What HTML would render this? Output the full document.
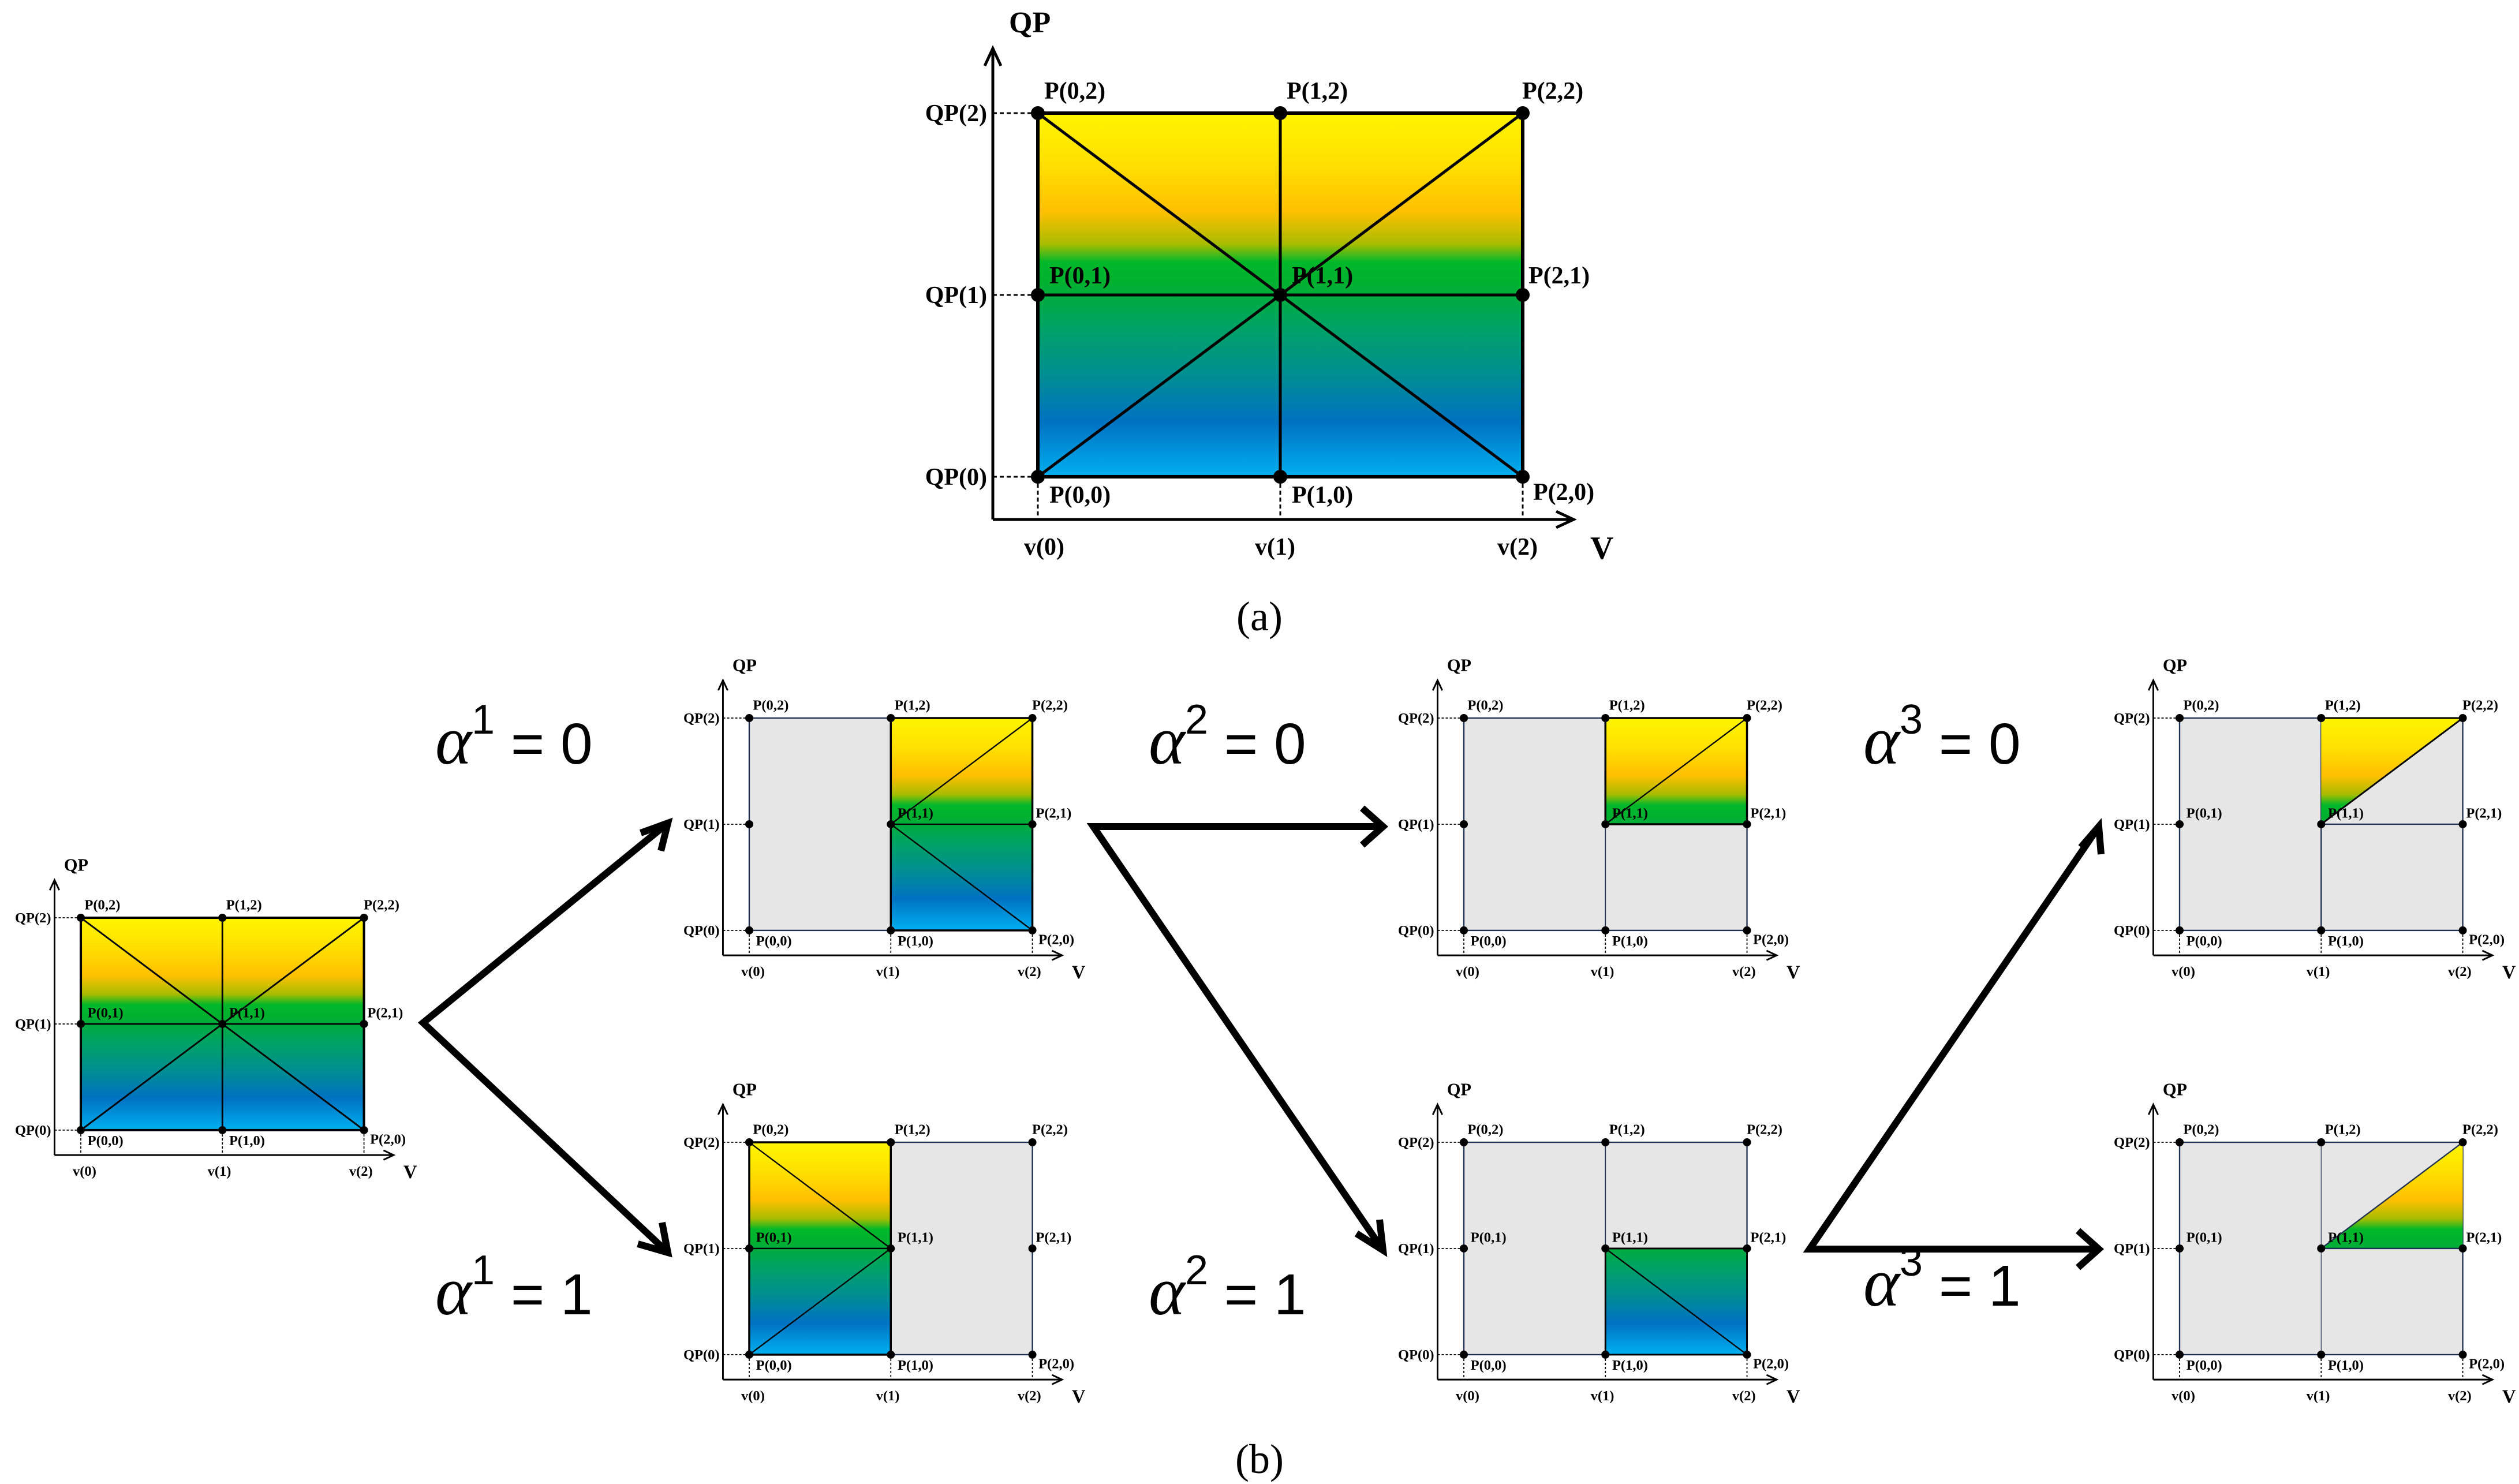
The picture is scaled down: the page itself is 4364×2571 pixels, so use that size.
<!DOCTYPE html>
<html><head><meta charset="utf-8"><style>
html,body{margin:0;padding:0;background:#fff}
svg{display:block}
.t{font-family:"Liberation Serif",serif;font-weight:bold;font-size:42px;fill:#000}
.a{font-family:"Liberation Sans",sans-serif;font-size:100px;fill:#000}
</style></head><body>
<svg width="4364" height="2571" viewBox="0 0 4364 2571" xmlns="http://www.w3.org/2000/svg">
<defs>
<linearGradient id="g" gradientUnits="userSpaceOnUse" x1="0" y1="0" x2="0" y2="630">
<stop offset="0" stop-color="#fff500"/>
<stop offset="0.14" stop-color="#ffe000"/>
<stop offset="0.27" stop-color="#ffc000"/>
<stop offset="0.36" stop-color="#a8bc00"/>
<stop offset="0.41" stop-color="#00b82a"/>
<stop offset="0.47" stop-color="#00b030"/>
<stop offset="0.58" stop-color="#00a462"/>
<stop offset="0.72" stop-color="#008e92"/>
<stop offset="0.85" stop-color="#0072c2"/>
<stop offset="1" stop-color="#00b0f0"/>
</linearGradient>
<g id="ax">
<path d="M-78,704V-110 M-78,704H925" stroke="#000" stroke-width="5" fill="none"/>
<path d="M-92,-82L-78,-112L-64,-82 M898,690L928,704L898,718" stroke="#000" stroke-width="5" fill="none"/>
<path d="M-78,0H0M-78,315H0M-78,630H0M0,630V704M420,630V704M840,630V704" stroke="#000" stroke-width="3" stroke-dasharray="7,5" fill="none"/>
<g fill="#000"><circle cx="0" cy="0" r="12"/><circle cx="420" cy="0" r="12"/><circle cx="840" cy="0" r="12"/><circle cx="0" cy="315" r="12"/><circle cx="420" cy="315" r="12"/><circle cx="840" cy="315" r="12"/><circle cx="0" cy="630" r="12"/><circle cx="420" cy="630" r="12"/><circle cx="840" cy="630" r="12"/></g>
</g>
</defs>

<!-- (a) big diagram -->
<g transform="translate(1798,196)">
<rect x="0" y="0" width="840" height="630" fill="url(#g)"/>
<path d="M0,0L840,630M840,0L0,630M420,0V630M0,315H840" stroke="#000" stroke-width="5" fill="none"/>
<rect x="0" y="0" width="840" height="630" fill="none" stroke="#000" stroke-width="6"/>
<use href="#ax"/>
<g class="t">
<text x="-50" y="-140" font-size="52">QP</text>
<text x="-88" y="14" text-anchor="end">QP(2)</text><text x="-88" y="329" text-anchor="end">QP(1)</text><text x="-88" y="644" text-anchor="end">QP(0)</text>
<text x="11" y="-25">P(0,2)</text><text x="431" y="-25">P(1,2)</text><text x="839" y="-25">P(2,2)</text>
<text x="20" y="295">P(0,1)</text><text x="440" y="295">P(1,1)</text><text x="850" y="295">P(2,1)</text>
<text x="20" y="675">P(0,0)</text><text x="440" y="675">P(1,0)</text><text x="858" y="670">P(2,0)</text>
<text x="11" y="765" text-anchor="middle">v(0)</text><text x="411" y="765" text-anchor="middle">v(1)</text><text x="831" y="765" text-anchor="middle">v(2)</text>
<text x="957" y="772" font-size="56">V</text>
</g>
</g>
<text x="2182" y="1092" text-anchor="middle" style="font-family:'Liberation Serif',serif;font-size:72px">(a)</text>
<text x="2182" y="2552" text-anchor="middle" style="font-family:'Liberation Serif',serif;font-size:72px">(b)</text>

<!-- D1 -->
<g transform="translate(140,1590) scale(0.584)">
<rect x="0" y="0" width="840" height="630" fill="url(#g)"/>
<path d="M0,0L840,630M840,0L0,630M420,0V630M0,315H840" stroke="#000" stroke-width="5" fill="none"/>
<rect x="0" y="0" width="840" height="630" fill="none" stroke="#000" stroke-width="7"/>
<use href="#ax"/>
<g class="t">
<text x="-50" y="-140" font-size="52">QP</text>
<text x="-88" y="14" text-anchor="end">QP(2)</text><text x="-88" y="329" text-anchor="end">QP(1)</text><text x="-88" y="644" text-anchor="end">QP(0)</text>
<text x="11" y="-25">P(0,2)</text><text x="431" y="-25">P(1,2)</text><text x="839" y="-25">P(2,2)</text>
<text x="20" y="295">P(0,1)</text><text x="440" y="295">P(1,1)</text><text x="850" y="295">P(2,1)</text>
<text x="20" y="675">P(0,0)</text><text x="440" y="675">P(1,0)</text><text x="858" y="670">P(2,0)</text>
<text x="11" y="765" text-anchor="middle">v(0)</text><text x="411" y="765" text-anchor="middle">v(1)</text><text x="831" y="765" text-anchor="middle">v(2)</text>
<text x="957" y="772" font-size="56">V</text>
</g>
</g>

<!-- D2 top col1 -->
<g transform="translate(1298,1244) scale(0.584)">
<rect x="0" y="0" width="840" height="630" fill="#e6e6e6" stroke="#1f3050" stroke-width="4"/>
<rect x="420" y="0" width="420" height="630" fill="url(#g)" stroke="#000" stroke-width="6"/>
<path d="M420,315L840,0M420,315L840,630M420,315H840" stroke="#000" stroke-width="4" fill="none"/>
<use href="#ax"/>
<g class="t">
<text x="-50" y="-140" font-size="52">QP</text>
<text x="-88" y="14" text-anchor="end">QP(2)</text><text x="-88" y="329" text-anchor="end">QP(1)</text><text x="-88" y="644" text-anchor="end">QP(0)</text>
<text x="11" y="-25">P(0,2)</text><text x="431" y="-25">P(1,2)</text><text x="839" y="-25">P(2,2)</text>
<text x="440" y="295">P(1,1)</text><text x="850" y="295">P(2,1)</text>
<text x="20" y="675">P(0,0)</text><text x="440" y="675">P(1,0)</text><text x="858" y="670">P(2,0)</text>
<text x="11" y="765" text-anchor="middle">v(0)</text><text x="411" y="765" text-anchor="middle">v(1)</text><text x="831" y="765" text-anchor="middle">v(2)</text>
<text x="957" y="772" font-size="56">V</text>
</g>
</g>

<!-- D3 bottom col1 -->
<g transform="translate(1298,1979) scale(0.584)">
<rect x="0" y="0" width="840" height="630" fill="#e6e6e6" stroke="#1f3050" stroke-width="4"/>
<rect x="0" y="0" width="420" height="630" fill="url(#g)" stroke="#000" stroke-width="6"/>
<path d="M0,0L420,315M0,630L420,315M0,315H420" stroke="#000" stroke-width="4" fill="none"/>
<use href="#ax"/>
<g class="t">
<text x="-50" y="-140" font-size="52">QP</text>
<text x="-88" y="14" text-anchor="end">QP(2)</text><text x="-88" y="329" text-anchor="end">QP(1)</text><text x="-88" y="644" text-anchor="end">QP(0)</text>
<text x="11" y="-25">P(0,2)</text><text x="431" y="-25">P(1,2)</text><text x="839" y="-25">P(2,2)</text>
<text x="20" y="295">P(0,1)</text><text x="440" y="295">P(1,1)</text><text x="850" y="295">P(2,1)</text>
<text x="20" y="675">P(0,0)</text><text x="440" y="675">P(1,0)</text><text x="858" y="670">P(2,0)</text>
<text x="11" y="765" text-anchor="middle">v(0)</text><text x="411" y="765" text-anchor="middle">v(1)</text><text x="831" y="765" text-anchor="middle">v(2)</text>
<text x="957" y="772" font-size="56">V</text>
</g>
</g>

<!-- D4 top col2 -->
<g transform="translate(2536,1244) scale(0.584)">
<rect x="0" y="0" width="840" height="630" fill="#e6e6e6" stroke="#1f3050" stroke-width="4"/>
<path d="M420,0V630" stroke="#1f3050" stroke-width="3"/>
<rect x="420" y="0" width="420" height="315" fill="url(#g)" stroke="#000" stroke-width="6"/>
<path d="M420,315L840,0" stroke="#000" stroke-width="4" fill="none"/>
<use href="#ax"/>
<g class="t">
<text x="-50" y="-140" font-size="52">QP</text>
<text x="-88" y="14" text-anchor="end">QP(2)</text><text x="-88" y="329" text-anchor="end">QP(1)</text><text x="-88" y="644" text-anchor="end">QP(0)</text>
<text x="11" y="-25">P(0,2)</text><text x="431" y="-25">P(1,2)</text><text x="839" y="-25">P(2,2)</text>
<text x="440" y="295">P(1,1)</text><text x="850" y="295">P(2,1)</text>
<text x="20" y="675">P(0,0)</text><text x="440" y="675">P(1,0)</text><text x="858" y="670">P(2,0)</text>
<text x="11" y="765" text-anchor="middle">v(0)</text><text x="411" y="765" text-anchor="middle">v(1)</text><text x="831" y="765" text-anchor="middle">v(2)</text>
<text x="957" y="772" font-size="56">V</text>
</g>
</g>

<!-- D5 bottom col2 -->
<g transform="translate(2536,1979) scale(0.584)">
<rect x="0" y="0" width="840" height="630" fill="#e6e6e6" stroke="#1f3050" stroke-width="4"/>
<path d="M420,0V630" stroke="#1f3050" stroke-width="3"/>
<rect x="420" y="315" width="420" height="315" fill="url(#g)" stroke="#000" stroke-width="5"/>
<path d="M420,315L840,630" stroke="#000" stroke-width="4" fill="none"/>
<use href="#ax"/>
<g class="t">
<text x="-50" y="-140" font-size="52">QP</text>
<text x="-88" y="14" text-anchor="end">QP(2)</text><text x="-88" y="329" text-anchor="end">QP(1)</text><text x="-88" y="644" text-anchor="end">QP(0)</text>
<text x="11" y="-25">P(0,2)</text><text x="431" y="-25">P(1,2)</text><text x="839" y="-25">P(2,2)</text>
<text x="20" y="295">P(0,1)</text><text x="440" y="295">P(1,1)</text><text x="850" y="295">P(2,1)</text>
<text x="20" y="675">P(0,0)</text><text x="440" y="675">P(1,0)</text><text x="858" y="670">P(2,0)</text>
<text x="11" y="765" text-anchor="middle">v(0)</text><text x="411" y="765" text-anchor="middle">v(1)</text><text x="831" y="765" text-anchor="middle">v(2)</text>
<text x="957" y="772" font-size="56">V</text>
</g>
</g>

<!-- D6 top col3 -->
<g transform="translate(3776,1244) scale(0.584)">
<rect x="0" y="0" width="840" height="630" fill="#e6e6e6" stroke="#1f3050" stroke-width="4"/>
<path d="M420,0V630M420,315H840" stroke="#1f3050" stroke-width="4"/>
<path d="M420,0H840L420,315Z" fill="url(#g)"/>
<path d="M420,0H840M420,315L840,0" stroke="#000" stroke-width="5" fill="none"/>
<use href="#ax"/>
<g class="t">
<text x="-50" y="-140" font-size="52">QP</text>
<text x="-88" y="14" text-anchor="end">QP(2)</text><text x="-88" y="329" text-anchor="end">QP(1)</text><text x="-88" y="644" text-anchor="end">QP(0)</text>
<text x="11" y="-25">P(0,2)</text><text x="431" y="-25">P(1,2)</text><text x="839" y="-25">P(2,2)</text>
<text x="20" y="295">P(0,1)</text><text x="440" y="295">P(1,1)</text><text x="850" y="295">P(2,1)</text>
<text x="20" y="675">P(0,0)</text><text x="440" y="675">P(1,0)</text><text x="858" y="670">P(2,0)</text>
<text x="11" y="765" text-anchor="middle">v(0)</text><text x="411" y="765" text-anchor="middle">v(1)</text><text x="831" y="765" text-anchor="middle">v(2)</text>
<text x="957" y="772" font-size="56">V</text>
</g>
</g>

<!-- D7 bottom col3 -->
<g transform="translate(3776,1979) scale(0.584)">
<rect x="0" y="0" width="840" height="630" fill="#e6e6e6" stroke="#1f3050" stroke-width="4"/>
<path d="M420,0V630" stroke="#1f3050" stroke-width="2"/>
<path d="M420,315L840,0V315Z" fill="url(#g)"/>
<path d="M420,315L840,0M420,315H840" stroke="#1f3050" stroke-width="4" fill="none"/>
<use href="#ax"/>
<g class="t">
<text x="-50" y="-140" font-size="52">QP</text>
<text x="-88" y="14" text-anchor="end">QP(2)</text><text x="-88" y="329" text-anchor="end">QP(1)</text><text x="-88" y="644" text-anchor="end">QP(0)</text>
<text x="11" y="-25">P(0,2)</text><text x="431" y="-25">P(1,2)</text><text x="839" y="-25">P(2,2)</text>
<text x="20" y="295">P(0,1)</text><text x="440" y="295">P(1,1)</text><text x="850" y="295">P(2,1)</text>
<text x="20" y="675">P(0,0)</text><text x="440" y="675">P(1,0)</text><text x="858" y="670">P(2,0)</text>
<text x="11" y="765" text-anchor="middle">v(0)</text><text x="411" y="765" text-anchor="middle">v(1)</text><text x="831" y="765" text-anchor="middle">v(2)</text>
<text x="957" y="772" font-size="56">V</text>
</g>
</g>

<!-- arrows -->
<g stroke="#000" stroke-width="12" fill="none" stroke-linejoin="miter" stroke-linecap="butt">
<path d="M1157,1426L733,1772L1157,2170"/>
<path d="M1110,1443L1157,1426L1145,1474 M1105,2155L1157,2170L1147,2118"/>
<path d="M2396,1432H1894L2396,2166"/>
<path d="M2360,1400L2396,1432L2360,1464 M2350,2137L2396,2166L2390,2113"/>
<path d="M3636,1432L3135,2164H3636"/>
<path d="M3605,1468L3636,1432L3640,1480 M3600,2132L3636,2164L3600,2196"/>
</g>

<!-- alpha labels -->
<g class="a">
<text x="754" y="1323"><tspan font-family="Liberation Serif" font-style="italic" font-size="120">α</tspan><tspan font-size="72" dy="-52">1</tspan><tspan dy="52"> = 0</tspan></text>
<text x="754" y="2277"><tspan font-family="Liberation Serif" font-style="italic" font-size="120">α</tspan><tspan font-size="72" dy="-52">1</tspan><tspan dy="52"> = 1</tspan></text>
<text x="1990" y="1323"><tspan font-family="Liberation Serif" font-style="italic" font-size="120">α</tspan><tspan font-size="72" dy="-52">2</tspan><tspan dy="52"> = 0</tspan></text>
<text x="1990" y="2277"><tspan font-family="Liberation Serif" font-style="italic" font-size="120">α</tspan><tspan font-size="72" dy="-52">2</tspan><tspan dy="52"> = 1</tspan></text>
<text x="3228" y="1323"><tspan font-family="Liberation Serif" font-style="italic" font-size="120">α</tspan><tspan font-size="72" dy="-52">3</tspan><tspan dy="52"> = 0</tspan></text>
<text x="3228" y="2262"><tspan font-family="Liberation Serif" font-style="italic" font-size="120">α</tspan><tspan font-size="72" dy="-52">3</tspan><tspan dy="52"> = 1</tspan></text>
</g>
</svg>
</body></html>
